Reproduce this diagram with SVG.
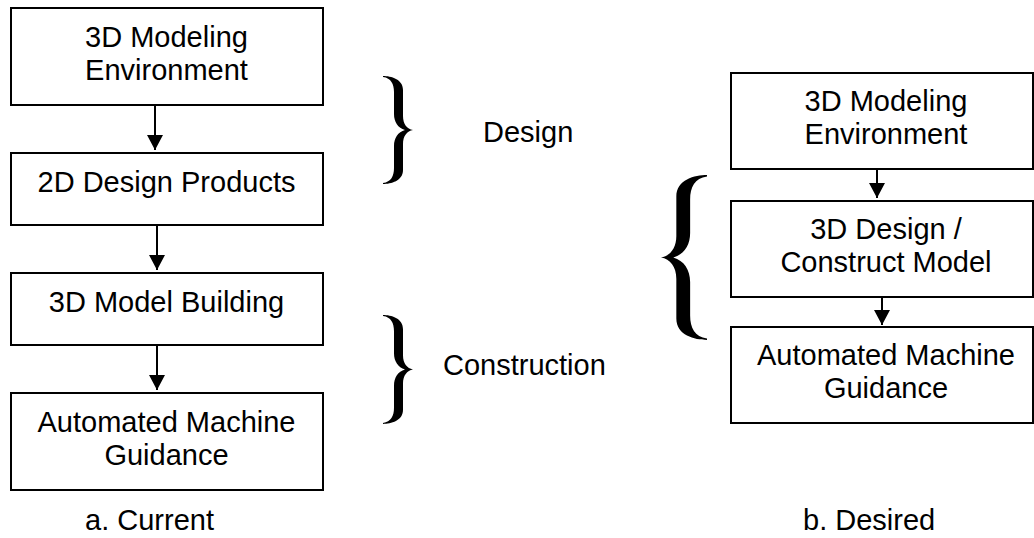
<svg xmlns="http://www.w3.org/2000/svg" xmlns:xlink="http://www.w3.org/1999/xlink" width="1034" height="538" viewBox="0 0 1034 538">
<style>
.box{fill:#fff;stroke:#000;stroke-width:2}
.t{font-family:"Liberation Sans",Arial,sans-serif;font-size:29px;fill:#000}
.c{text-anchor:middle}
.ln{stroke:#000;stroke-width:2;fill:none}
.brace{fill:#000}
</style>
<defs>
<marker id="ah" markerUnits="userSpaceOnUse" markerWidth="15" markerHeight="16" viewBox="0 0 15 16" refX="15" refY="8" orient="auto">
<path d="M0,0 L15,8 L0,16 Z" fill="#000"/>
</marker>
<path id="rb" d="M0,0 C8,0 20,3 20,14 L20,40 C20,48 24,53 30,54 C24,55 20,60 20,68 L20,94 C20,105 8,108 0,108 L0,107 C8,106 11,100 11,92 L11,70 C11,62 15,56 22,54 C15,52 11,46 11,38 L11,16 C11,8 8,2 0,1 Z"/>
</defs>
<rect width="1034" height="538" fill="#fff"/>
<g id="connectors">
<line class="ln" x1="155" y1="105" x2="155" y2="150" marker-end="url(#ah)"/>
<line class="ln" x1="157" y1="225" x2="157" y2="270" marker-end="url(#ah)"/>
<line class="ln" x1="157" y1="345" x2="157" y2="390" marker-end="url(#ah)"/>
<line class="ln" x1="877" y1="169" x2="877" y2="198" marker-end="url(#ah)"/>
<line class="ln" x1="882" y1="297" x2="882" y2="325" marker-end="url(#ah)"/>
</g>
<g id="a1"><rect class="box" x="11" y="8" width="312" height="97"/><text class="t c" x="166.5" y="47">3D Modeling</text><text class="t c" x="166.5" y="80">Environment</text></g>
<g id="a2"><rect class="box" x="11" y="153" width="312" height="72"/><text class="t c" x="166.5" y="192">2D Design Products</text></g>
<g id="a3"><rect class="box" x="11" y="273" width="312" height="72"/><text class="t c" x="166.5" y="312">3D Model Building</text></g>
<g id="a4"><rect class="box" x="11" y="393" width="312" height="97"/><text class="t c" x="166.5" y="432">Automated Machine</text><text class="t c" x="166.5" y="464.5">Guidance</text></g>
<g id="b1"><rect class="box" x="731" y="73" width="302" height="96"/><text class="t c" x="886" y="110.5">3D Modeling</text><text class="t c" x="886" y="143.5">Environment</text></g>
<g id="b2"><rect class="box" x="731" y="201" width="302" height="96"/><text class="t c" x="886" y="238.5">3D Design /</text><text class="t c" x="886" y="272">Construct Model</text></g>
<g id="b3"><rect class="box" x="731" y="327" width="302" height="96"/><text class="t c" x="886" y="364.5">Automated Machine</text><text class="t c" x="886" y="398">Guidance</text></g>
<g id="designBrace"><use xlink:href="#rb" class="brace" transform="translate(383,76)"/><text class="t" x="483" y="142">Design</text></g>
<g id="constructionBrace"><use xlink:href="#rb" class="brace" transform="translate(383,315) scale(1,1.009)"/><text class="t" x="443" y="375">Construction</text></g>
<g id="desiredBrace"><use xlink:href="#rb" class="brace" transform="translate(707,175) scale(-1.5333,1.5278)"/></g>
<g id="captions"><text class="t" x="85" y="530">a. Current</text><text class="t" x="803" y="530">b. Desired</text></g>
</svg>
